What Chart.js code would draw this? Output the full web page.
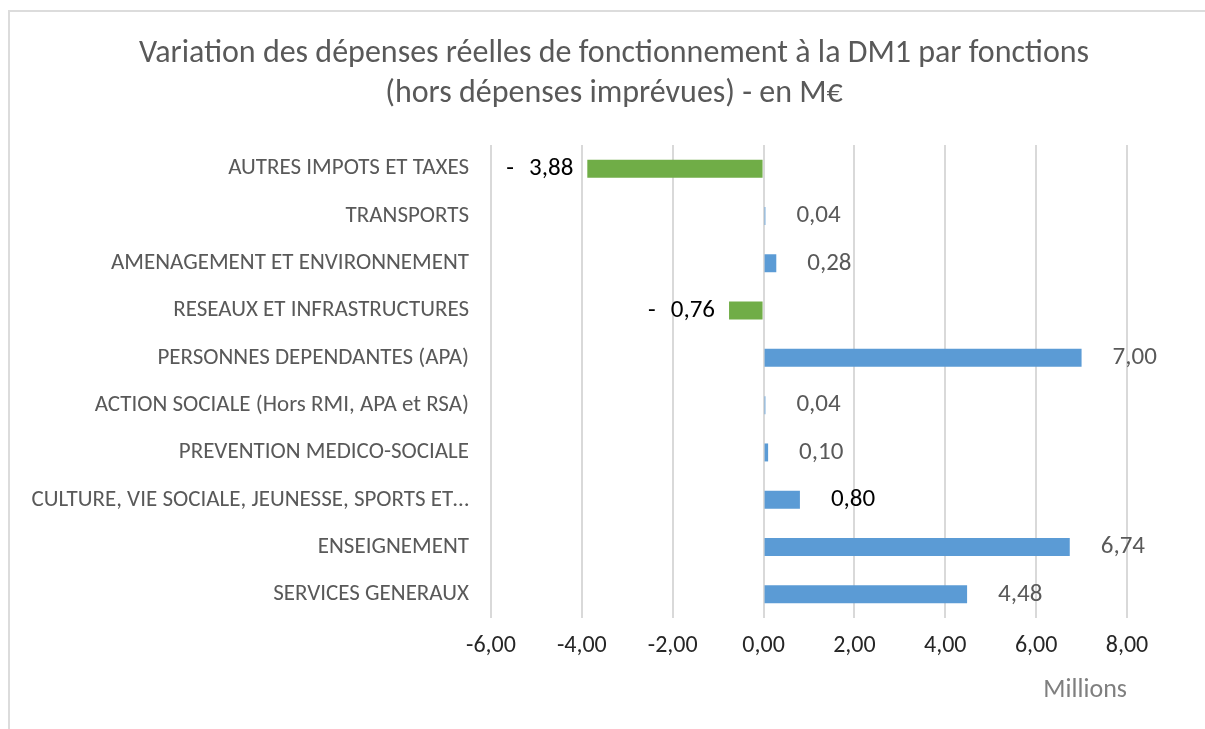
<!DOCTYPE html>
<html lang="fr">
<head>
<meta charset="UTF-8">
<title>Variation des dépenses DM1</title>
<style>
    body { margin: 0; padding: 0; background: #ffffff; overflow: hidden; }
    #frame {
        position: absolute; left: 8px; top: 10px;
        width: 1300px; height: 800px;
        border: 2px solid #dcdcdc;
    }
    #wrap { position: absolute; left: 0; top: 0; width: 1205px; height: 729px; }
</style>
</head>
<body>
<div id="frame"></div>
<div id="wrap"><canvas id="chart" width="1205" height="729"></canvas></div>
<script src="https://cdn.jsdelivr.net/npm/chart.js@4/dist/chart.umd.min.js"></script>
<script>
// data, top row first
const categories = [
    "AUTRES IMPOTS ET TAXES",
    "TRANSPORTS",
    "AMENAGEMENT ET ENVIRONNEMENT",
    "RESEAUX ET INFRASTRUCTURES",
    "PERSONNES DEPENDANTES (APA)",
    "ACTION SOCIALE (Hors RMI, APA et RSA)",
    "PREVENTION MEDICO-SOCIALE",
    "CULTURE, VIE SOCIALE, JEUNESSE, SPORTS ET\u2026",
    "ENSEIGNEMENT",
    "SERVICES GENERAUX"
];
const variations = [-3.88, 0.04, 0.28, -0.76, 7.00, 0.04, 0.10, 0.80, 6.74, 4.48];
const xTicks = [-6, -4, -2, 0, 2, 4, 6, 8];

const FONT = "Carlito, Lato, sans-serif";
const fmt = v => v.toFixed(2).replace(".", ",");
// label colours per row (some Excel labels are darker)
const labelColors = ["#000", "#595959", "#595959", "#000", "#595959", "#595959", "#595959", "#000", "#595959", "#595959"];

// simple data label plugin (no datalabels lib available)
const barLabels = {
    id: "barLabels",
    afterLayout(chart) {
        // title in the original is centred a bit right of the canvas middle
        chart.titleBlock.left = 101;
    },
    afterDatasetsDraw(chart) {
        const ctx = chart.ctx;
        const meta = chart.getDatasetMeta(0);
        ctx.save();
        ctx.font = "25px " + FONT;
        ctx.textBaseline = "middle";
        meta.data.forEach((bar, i) => {
            const v = variations[i];
            ctx.fillStyle = labelColors[i];
            if (v < 0) {
                ctx.textAlign = "right";
                ctx.fillText(fmt(-v), bar.x - 14, bar.y);
                ctx.textAlign = "left";
                ctx.fillText("-", bar.x - 81, bar.y);
            } else {
                ctx.textAlign = "left";
                ctx.fillText(fmt(v), bar.x + 31, bar.y);
            }
        });
        ctx.restore();
    }
};

new Chart(document.getElementById("chart"), {
    type: "bar",
    data: {
        labels: categories,
        datasets: [{
            data: variations,
            backgroundColor: c => c.raw < 0 ? "#70ad47" : "#5b9bd5",
            barPercentage: 0.38,
            categoryPercentage: 1
        }]
    },
    options: {
        indexAxis: "y",
        responsive: false,
        animation: false,
        layout: { padding: { left: 10, right: 78, top: 10, bottom: 19 } },
        plugins: {
            legend: { display: false },
            tooltip: { enabled: false },
            title: {
                display: true,
                text: ["Variation des dépenses réelles de fonctionnement à la DM1 par fonctions",
                       "(hors dépenses imprévues) - en M€"],
                color: "#595959",
                font: { family: FONT, size: 32, weight: "normal", lineHeight: 1.25 },
                padding: { top: 24, bottom: 31 }
            }
        },
        scales: {
            x: {
                min: -6, max: 8,
                afterBuildTicks: s => { s.ticks = xTicks.map(v => ({ value: v })); },
                ticks: {
                    color: "#262626",
                    font: { family: FONT, size: 24 },
                    padding: 14,
                    callback: v => fmt(v)
                },
                grid: { color: "#d9d9d9", lineWidth: 2, drawTicks: false },
                border: { display: false },
                title: {
                    display: true,
                    text: "Millions",
                    align: "end",
                    color: "#7f7f7f",
                    font: { family: FONT, size: 26 },
                    padding: { top: 0, bottom: 4 }
                }
            },
            y: {
                afterFit: s => { s.width = 481; },
                ticks: {
                    color: "#595959",
                    font: { family: FONT, size: 23 },
                    padding: 22
                },
                grid: { display: false, drawTicks: false },
                border: { display: false }
            }
        }
    },
    plugins: [barLabels]
});
</script>
</body>
</html>
